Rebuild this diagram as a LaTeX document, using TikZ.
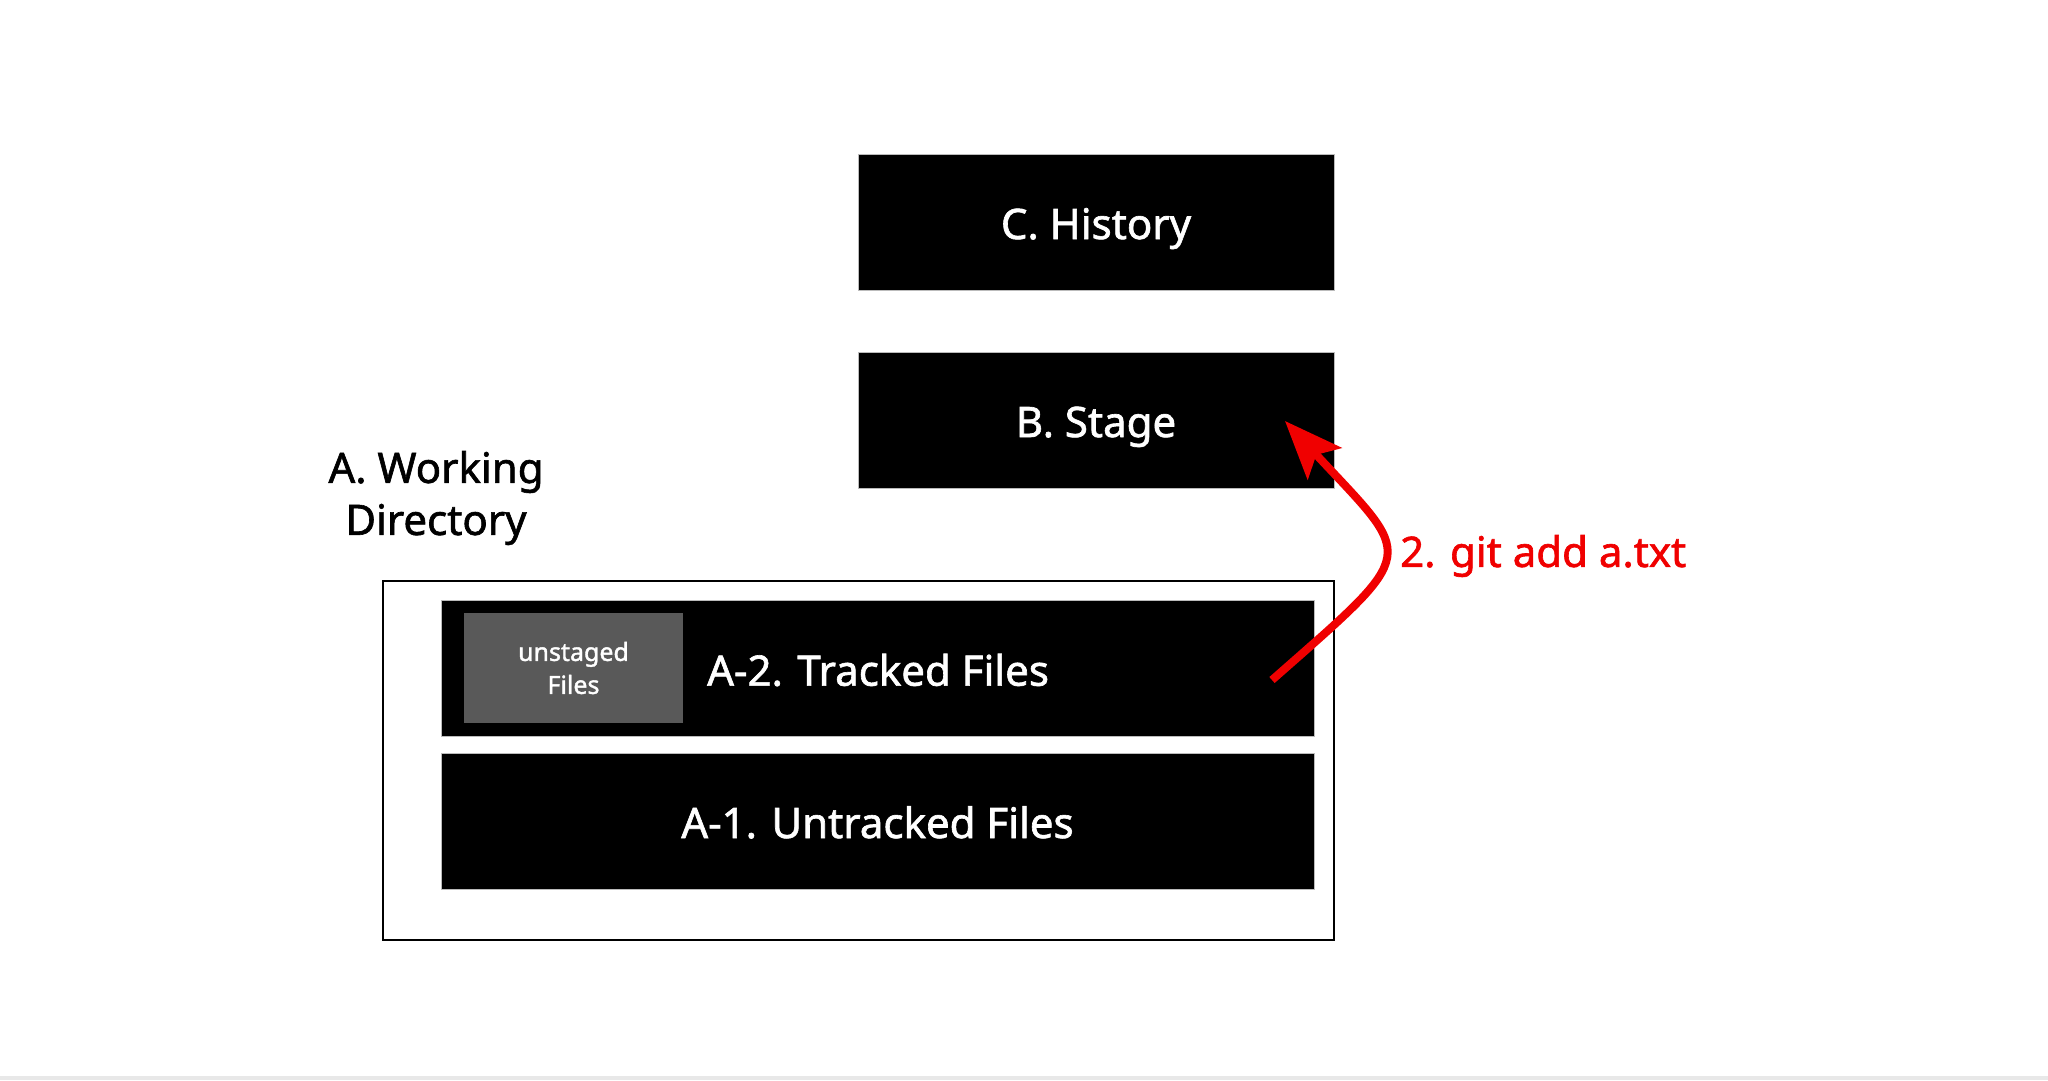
\documentclass[tikz,border=0pt]{standalone}
\usepackage{fontspec}
\setmainfont{Noto Sans}[FakeBold=1.5]
\usetikzlibrary{arrows.meta}
\definecolor{boxedge}{HTML}{BBBBBB}
\definecolor{unst}{HTML}{595959}
\definecolor{gitred}{HTML}{F00000}
\definecolor{footgray}{HTML}{E8E8E8}
\tikzset{
  blackbox/.style={draw=boxedge, line width=1pt, fill=black, text=white, inner sep=0pt, font=\fontsize{42}{50}\selectfont\bfseries, text height=34pt, text depth=0pt},
  graybox/.style={draw=none, fill=unst, text=white, inner sep=0pt, align=center, font=\fontsize{25}{33}\selectfont\bfseries},
  outerbox/.style={draw=black, line width=2pt, fill=none, inner sep=0pt},
  bigtext/.style={font=\fontsize{42}{52}\selectfont\bfseries, inner sep=0pt},
  redarrow/.style={draw=gitred, line width=8pt, -{Stealth[length=58pt,width=46pt,inset=12pt]}}
}
\begin{document}
\begin{tikzpicture}[x=1pt,y=-1pt]
\useasboundingbox (0,0) rectangle (2048,1080);
\fill[white] (0,0) rectangle (2048,1080);
\fill[footgray] (0,1076) rectangle (2048,1080);

\node[blackbox, minimum width=476pt, minimum height=136pt] (hist) at (1096,222) {C. History};
\node[blackbox, minimum width=476pt, minimum height=136pt] (stage) at (1096,420) {B. Stage};

\node[outerbox, minimum width=951pt, minimum height=359pt] (wd) at (858.5,760.5) {};
\node[bigtext, align=center] (wdlabel) at (436,498) {A. Working\\Directory};

\node[blackbox, minimum width=873pt, minimum height=136pt] (a2) at (877.5,668) {};
\node[graybox, minimum width=219pt, minimum height=110pt] (unstaged) at (573.5,668) {unstaged\\Files};
\node[bigtext, text=white, anchor=west] (a2text) at (707,670) {A-2. Tracked Files};

\node[blackbox, minimum width=873pt, minimum height=136pt] (a1) at (877.5,821) {A-1. Untracked Files};

\coordinate (tail) at (1272,680);
\coordinate (tip) at (1285,421);
\draw[redarrow] (tail) .. controls (1422,548) and (1415,561) .. (tip);
\node[bigtext, text=gitred, anchor=west] (cmd) at (1400,556) {2. git add a.txt};
\end{tikzpicture}
\end{document}
